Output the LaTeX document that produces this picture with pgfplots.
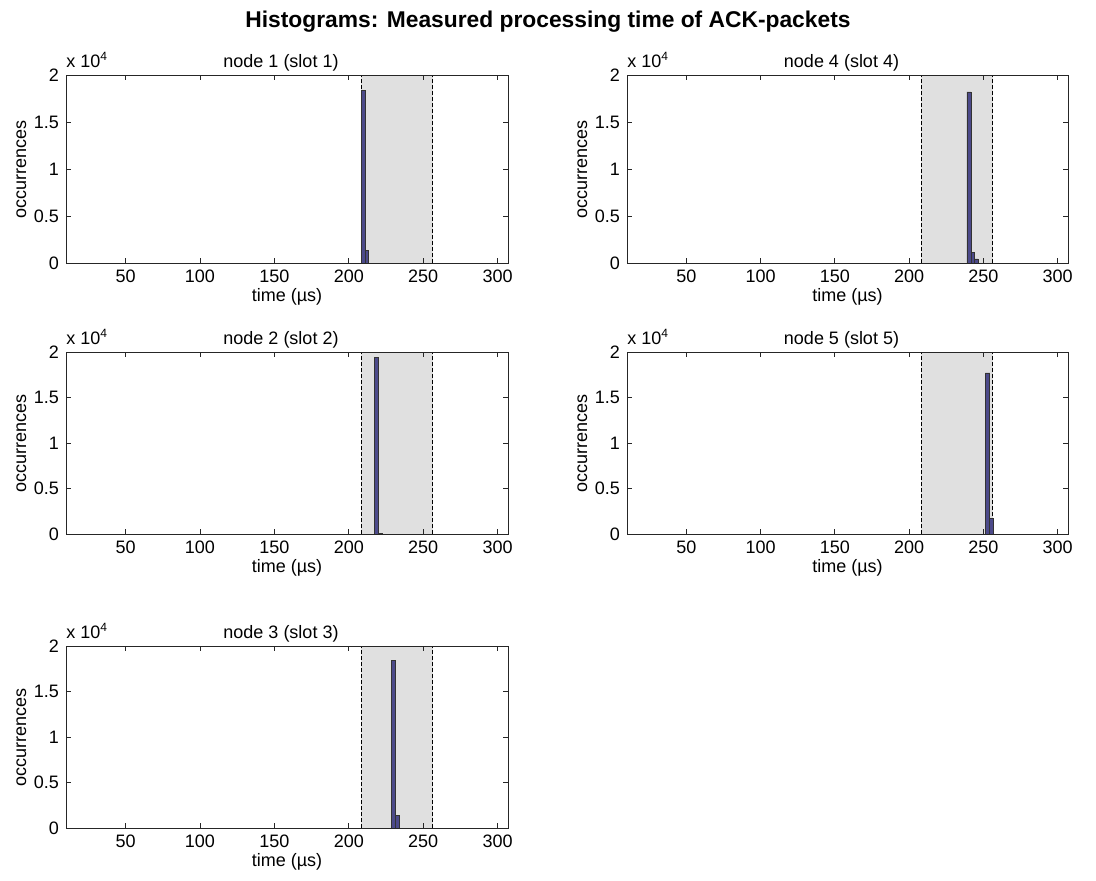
\documentclass[border=0pt]{standalone}
\usepackage{fontspec}
\setmainfont{Liberation Sans}
\usepackage{pgfplots}
\pgfplotsset{compat=1.18}
\definecolor{barc}{RGB}{76,74,138}
\definecolor{shade}{RGB}{224,224,224}
\pgfplotsset{
  hist/.style={
    scale only axis,
    xmin=10, xmax=307, ymin=0, ymax=20000,
    xtick={50,100,150,200,250,300},
    ytick={0,5000,10000,15000,20000},
    yticklabels={0,0.5,1,1.5,2},
    scaled y ticks=false,
    tick align=inside,
    major tick length=2.5pt,
    axis on top,
    axis line style={line width=0.5pt, black!85},
    every tick/.style={black!85, line width=0.4pt},
    /pgf/number format/assume math mode=true,
    font=\fontsize{9}{10.5}\selectfont,
    tick label style={font=\fontsize{9}{10.5}\selectfont},
    xlabel={time (µs)},
    ylabel={occurrences},
    xlabel style={yshift=4pt},
    ylabel style={yshift=-3pt},
    every axis title/.style={at={(0.5,1)}, anchor=base, yshift=3.6pt, xshift=-3pt, inner sep=0pt, font=\fontsize{9}{10.5}\selectfont},
    clip mode=individual,
  },
  shadeplot/.style={fill=shade, draw=none, forget plot},
  dashplot/.style={black, line width=0.45pt, dash pattern=on 1.8pt off 1.2pt, forget plot},
  barplot/.style={ybar interval, fill=barc, draw=black!80, line width=0.3pt},
}
\newcommand{\scalelabel}{\node[anchor=base west, inner sep=0pt, font=\fontsize{9}{10.5}\selectfont] at ([yshift=3.6pt]rel axis cs:0,1) {x 10\textsuperscript{4}};}
\begin{document}
\begin{tikzpicture}
\useasboundingbox (0,0) rectangle (548pt,-440pt);
\node[font=\bfseries\fontsize{11.4}{13}\selectfont] at (274pt,-11pt) {Histograms: Measured processing time of ACK-packets};

% node 1
\begin{axis}[hist, at={(33pt,-37.5pt)}, anchor=north west, width=221pt, height=94pt, title={node 1 (slot 1)}]
\addplot[shadeplot] coordinates {(208.3,20000) (256.3,20000)} \closedcycle;
\addplot[dashplot] coordinates {(208.3,0) (208.3,20000)};
\addplot[dashplot] coordinates {(256.3,0) (256.3,20000)};
\addplot[barplot] coordinates {(208.5,18400) (211.1,1380) (213.4,0)};
\scalelabel
\end{axis}

% node 4
\begin{axis}[hist, at={(313.5pt,-37.5pt)}, anchor=north west, width=220.5pt, height=94pt, title={node 4 (slot 4)}]
\addplot[shadeplot] coordinates {(208.3,20000) (256.3,20000)} \closedcycle;
\addplot[dashplot] coordinates {(208.3,0) (208.3,20000)};
\addplot[dashplot] coordinates {(256.3,0) (256.3,20000)};
\addplot[barplot] coordinates {(238.9,18200) (241.6,1100) (243.9,430) (246.3,0)};
\scalelabel
\end{axis}

% node 2
\begin{axis}[hist, at={(33pt,-176pt)}, anchor=north west, width=221pt, height=91pt, title={node 2 (slot 2)}]
\addplot[shadeplot] coordinates {(208.3,20000) (256.3,20000)} \closedcycle;
\addplot[dashplot] coordinates {(208.3,0) (208.3,20000)};
\addplot[dashplot] coordinates {(256.3,0) (256.3,20000)};
\addplot[barplot] coordinates {(217.2,19400) (220.0,100) (222.6,0)};
\scalelabel
\end{axis}

% node 5
\begin{axis}[hist, at={(313.5pt,-176pt)}, anchor=north west, width=220.5pt, height=91pt, title={node 5 (slot 5)}]
\addplot[shadeplot] coordinates {(208.3,20000) (256.3,20000)} \closedcycle;
\addplot[dashplot] coordinates {(208.3,0) (208.3,20000)};
\addplot[dashplot] coordinates {(256.3,0) (256.3,20000)};
\addplot[barplot] coordinates {(251.4,17700) (254.3,1700) (256.9,0)};
\scalelabel
\end{axis}

% node 3
\begin{axis}[hist, at={(33pt,-323pt)}, anchor=north west, width=221pt, height=91pt, title={node 3 (slot 3)}]
\addplot[shadeplot] coordinates {(208.3,20000) (256.3,20000)} \closedcycle;
\addplot[dashplot] coordinates {(208.3,0) (208.3,20000)};
\addplot[dashplot] coordinates {(256.3,0) (256.3,20000)};
\addplot[barplot] coordinates {(228.5,18400) (231.1,1380) (233.7,0)};
\scalelabel
\end{axis}
\end{tikzpicture}
\end{document}
